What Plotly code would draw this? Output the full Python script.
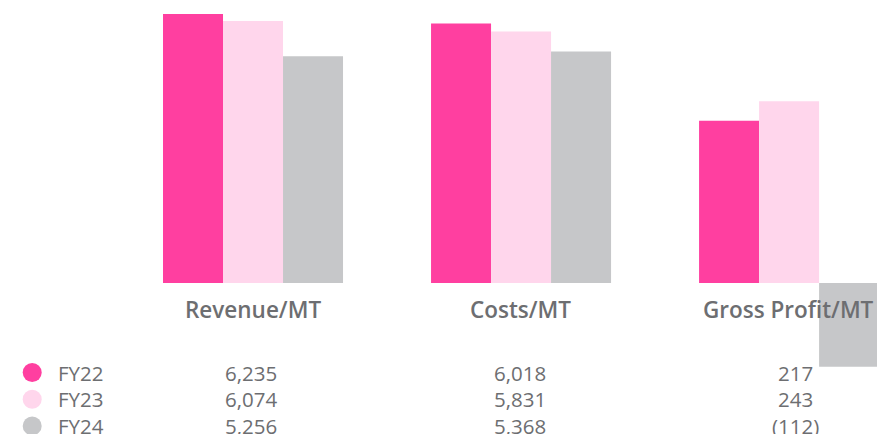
import plotly.graph_objects as go

categories = ["Revenue/MT", "Costs/MT", "Gross Profit/MT"]
years = ["FY22", "FY23", "FY24"]
revenue = [6235, 6074, 5256]
costs = [6018, 5831, 5368]
gross_profit = [217, 243, -112]
colors = ["#FF3FA0", "#FFD6EC", "#C6C7C9"]

W, H = 877, 434
TXT = "#6D6E71"
FONT = "Open Sans"

def fmt(v):
    return "({:,})".format(-v) if v < 0 else "{:,}".format(v)

fig = go.Figure()
bw = 60 / 268
for i, yr in enumerate(years):
    off = -1.5 * bw + i * bw
    fig.add_trace(go.Bar(x=categories[:2], y=[revenue[i], costs[i]], name=yr,
                         marker=dict(color=colors[i], line=dict(width=0)),
                         width=bw, offset=off, yaxis="y", showlegend=False))
    fig.add_trace(go.Bar(x=[categories[2]], y=[gross_profit[i]], name=yr,
                         marker=dict(color=colors[i], line=dict(width=0)),
                         width=bw, offset=off, yaxis="y2", showlegend=False))

def px(x):
    return x / W

def py(y):
    return 1 - y / H

ann = []
col_x = [251, 520, 795]
for c, cx in zip(categories, [253, 520, 788]):
    ann.append(dict(text=c, x=px(cx), y=py(309), xref="paper", yref="paper",
                    xanchor="center", yanchor="middle", showarrow=False,
                    font=dict(family=FONT, size=22.5, color=TXT, weight=600)))
row_y = [372.5, 399.2, 425.9]
series = [revenue, costs, gross_profit]
shapes = []
for i, yr in enumerate(years):
    ann.append(dict(text=yr, x=px(56), y=py(row_y[i]), xref="paper", yref="paper",
                    xanchor="left", yanchor="middle", showarrow=False,
                    font=dict(family=FONT, size=20.5, color=TXT)))
    shapes.append(dict(type="circle", xref="paper", yref="paper",
                       x0=px(22.7), x1=px(41.7), y0=py(row_y[i] - 9.5), y1=py(row_y[i] + 9.5),
                       fillcolor=colors[i], line=dict(width=0)))
    for s, cx in zip(series, col_x):
        ann.append(dict(text=fmt(s[i]), x=px(cx), y=py(row_y[i]), xref="paper", yref="paper",
                        xanchor="center", yanchor="middle", showarrow=False,
                        font=dict(family=FONT, size=20.5, color=TXT)))

fig.update_layout(
    width=W, height=H, margin=dict(l=0, r=0, t=0, b=0),
    paper_bgcolor="white", plot_bgcolor="white",
    barmode="overlay",
    xaxis=dict(type="category", domain=[119 / W, 1], range=[-0.5, 2.328],
               showticklabels=False, showgrid=False, zeroline=False, showline=False),
    yaxis=dict(range=[-3500, 6560], visible=False),
    yaxis2=dict(range=[-201.9, 378.3], overlaying="y", visible=False),
    annotations=ann, shapes=shapes,
)
fig.write_html("out.html", config={"displayModeBar": False},
               post_script="document.body.style.margin='0';document.body.style.overflow='hidden';")
